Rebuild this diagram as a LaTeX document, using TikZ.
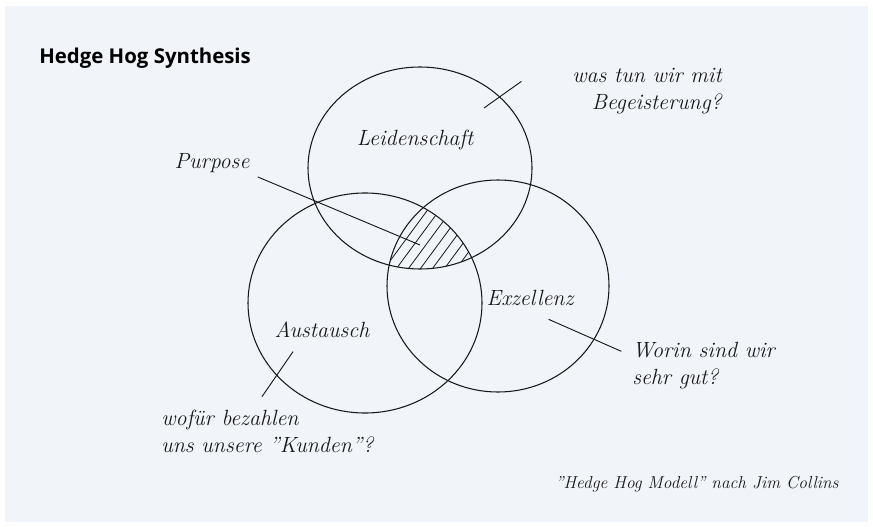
\documentclass[tikz,border=0pt]{standalone}
\usepackage{fontspec}
\newfontfamily\titlefont{Open Sans}
\usetikzlibrary{positioning}
\definecolor{paper}{RGB}{241,244,249}
\definecolor{ink}{RGB}{25,25,25}

\begin{document}
\begin{tikzpicture}[
    x=0.75pt, y=-0.75pt,
    ring/.style={draw=ink, line width=0.8pt},
    hand/.style={font=\fontsize{16.5}{20}\selectfont\itshape, text=ink, inner sep=0pt},
    leader/.style={draw=ink, line width=0.7pt},
    hatch/.style={draw=ink, line width=0.6pt}
]
\useasboundingbox (0,0) rectangle (873,527);
\fill[paper] (5,6) rectangle (868,522);

% Titel
\node[font=\titlefont\bfseries\fontsize{15.3}{18}\selectfont, anchor=west, inner sep=0pt] (title) at (39,58) {Hedge Hog Synthesis};

% Die drei Kreise
\coordinate (cLeid) at (420,168);
\coordinate (cAus) at (365,303);
\coordinate (cExz) at (498,286);
\draw[ring] (cLeid) ellipse [x radius=112, y radius=101];
\draw[ring] (cAus) ellipse [x radius=117, y radius=110];
\draw[ring] (cExz) ellipse [x radius=111, y radius=106];

% Schnittmenge schraffiert
\begin{scope}
\clip (cLeid) ellipse [x radius=112, y radius=101];
\clip (cAus) ellipse [x radius=117, y radius=110];
\clip (cExz) ellipse [x radius=111, y radius=106];
\foreach \k in {340,352,...,460}
  \draw[hatch] (\k,280) -- ++(70,-95);
\end{scope}

% Beschriftungen
\node[hand] (leid) at (415,140) {Leidenschaft};
\node[hand, align=right, anchor=north east] (begeisterung) at (722,68) {was tun wir mit\\Begeisterung?};
\node[hand] (purpose) at (212,163) {Purpose};
\node[hand] (exzellenz) at (530,298) {Exzellenz};
\node[hand, align=left, anchor=north west] (worin) at (632,342) {Worin sind wir\\sehr gut?};
\node[hand] (austausch) at (322,330) {Austausch};
\node[hand, align=left, anchor=north west] (wofuer) at (161,410) {wofür bezahlen\\uns unsere "Kunden"?};
\node[hand, font=\fontsize{13}{15}\selectfont\itshape] (credit) at (697,484) {"Hedge Hog Modell" nach Jim Collins};

% Zeigelinien
\coordinate (bIn) at (484,108);
\coordinate (pIn) at (420,245);
\draw[leader] (bIn) -- ([shift={(-38pt,-10pt)}]begeisterung.north west);
\draw[leader] ([shift={(6pt,-3pt)}]purpose.south east) -- (pIn);
\draw[leader] ([shift={(14pt,-10pt)}]exzellenz.south) -- ([shift={(-8pt,-7pt)}]worin.north west);
\draw[leader] ([shift={(14pt,-10pt)}]austausch.south west) -- ([shift={(-4pt,10pt)}]wofuer.north);

\end{tikzpicture}
\end{document}
